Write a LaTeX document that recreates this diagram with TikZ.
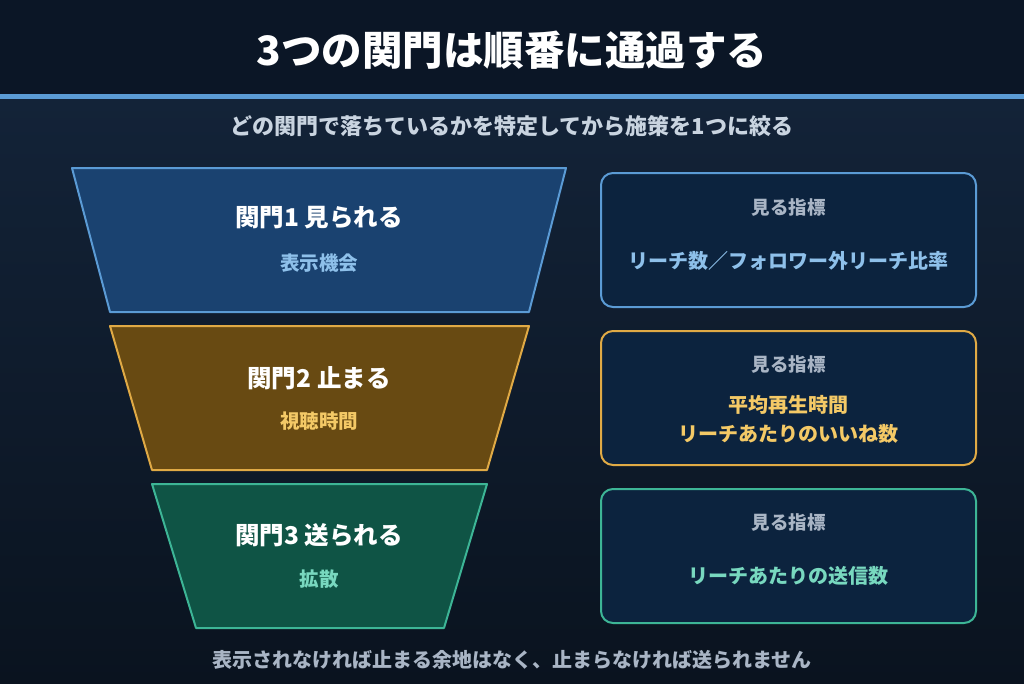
\documentclass[tikz,border=0pt]{standalone}
\usepackage{fontspec}
\setmainfont{Noto Sans CJK JP}
\usetikzlibrary{positioning}
\definecolor{headbg}{HTML}{0B1626}
\definecolor{bgtop}{HTML}{132338}
\definecolor{bgbot}{HTML}{0A131F}
\definecolor{blueline}{HTML}{5B9BD5}
\definecolor{bluefill}{HTML}{1A4270}
\definecolor{bluetext}{HTML}{8EC0EA}
\definecolor{goldline}{HTML}{E0AA45}
\definecolor{goldfill}{HTML}{684A12}
\definecolor{goldtext}{HTML}{F4C966}
\definecolor{greenline}{HTML}{3DB596}
\definecolor{greenfill}{HTML}{0F5445}
\definecolor{greentext}{HTML}{78D8BF}
\definecolor{boxfill}{HTML}{0C233E}
\definecolor{graytext}{HTML}{A9B5C5}
\definecolor{subtext}{HTML}{C9D4E0}
\begin{document}
\begin{tikzpicture}[x=1pt,y=-1pt, line join=round, line cap=round,
	gate/.style={line width=2pt},
	gatename/.style={text=white, font=\fontsize{24.5}{28}\selectfont\bfseries},
	gatesub/.style={font=\fontsize{19.5}{23}\selectfont\bfseries},
	metric/.style={line width=2pt, rounded corners=12pt, fill=boxfill, minimum width=375pt, minimum height=134pt},
	metrichead/.style={text=graytext, font=\fontsize{18.5}{22}\selectfont\bfseries},
	metricval/.style={font=\fontsize{20}{29}\selectfont\bfseries, align=center}]
	\useasboundingbox (0,0) rectangle (1024,683);
	% background
	\shade[top color=bgtop, bottom color=bgbot] (0,99) rectangle (1024,683);
	\fill[headbg] (0,0) rectangle (1024,94);
	\fill[blueline] (0,94) rectangle (1024,99);
	\node[text=white, font=\fontsize{40.5}{46}\selectfont\bfseries] (title) at (512,50) {3つの関門は順番に通過する};
	\node[text=subtext, font=\fontsize{22}{26}\selectfont\bfseries] (lead) at (512,126) {どの関門で落ちているかを特定してから施策を1つに絞る};
	% funnel
	\draw[gate, draw=blueline, fill=bluefill] (72,168) -- (566,168) -- (529,312) -- (110,312) -- cycle;
	\draw[gate, draw=goldline, fill=goldfill] (110,326) -- (529,326) -- (487,470) -- (152,470) -- cycle;
	\draw[gate, draw=greenline, fill=greenfill] (152,484) -- (487,484) -- (444,628) -- (196,628) -- cycle;
	\node[gatename] (g1) at (319,218) {関門1 見られる};
	\node[gatesub, text=bluetext, below=17pt of g1] (g1s) {表示機会};
	\node[gatename] (g2) at (319,378) {関門2 止まる};
	\node[gatesub, text=goldtext, below=15pt of g2] (g2s) {視聴時間};
	\node[gatename] (g3) at (319,535) {関門3 送られる};
	\node[gatesub, text=greentext, below=16pt of g3] (g3s) {拡散};
	% metrics
	\node[metric, draw=blueline] (m1) at (788.5,240) {};
	\node[metric, draw=goldline] (m2) at (788.5,398) {};
	\node[metric, draw=greenline] (m3) at (788.5,556) {};
	\node[metrichead] (h1) at ([yshift=-36pt]m1.north) {見る指標};
	\node[metrichead] (h2) at ([yshift=-35pt]m2.north) {見る指標};
	\node[metrichead] (h3) at ([yshift=-35pt]m3.north) {見る指標};
	\node[metricval, text=bluetext] (v1) at (788.5,261) {リーチ数／フォロワー外リーチ比率};
	\node[metricval, text=goldtext] (v2) at (788.5,419) {平均再生時間\\リーチあたりのいいね数};
	\node[metricval, text=greentext] (v3) at (788.5,576) {リーチあたりの送信数};
	\node[text=graytext, font=\fontsize{20}{24}\selectfont\bfseries] (foot) at (512,660) {表示されなければ止まる余地はなく、止まらなければ送られません};
\end{tikzpicture}
\end{document}
